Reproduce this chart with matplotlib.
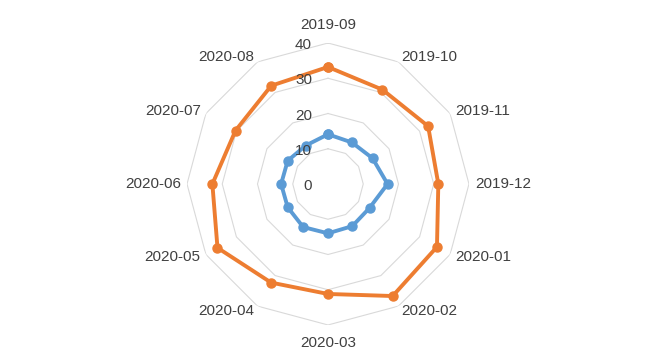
import numpy as np
import matplotlib
matplotlib.use("Agg")
import matplotlib.pyplot as plt

categories = ["2019-09", "2019-10", "2019-11", "2019-12", "2020-01", "2020-02",
              "2020-03", "2020-04", "2020-05", "2020-06", "2020-07", "2020-08"]
series_blue = [14.1, 13.6, 14.6, 16.9, 13.6, 13.8, 14.0, 14.1, 13.2, 13.3, 13.2, 12.6]
series_orange = [33.2, 30.9, 32.8, 31.3, 35.7, 36.7, 31.2, 32.3, 36.2, 32.8, 30.3, 32.2]
r_ticks = [0, 10, 20, 30, 40]

plt.rcParams['font.family'] = ['Liberation Sans', 'DejaVu Sans']

fig = plt.figure(figsize=(6.55, 3.57), dpi=100)
ax = fig.add_axes([0.2855, 0.0896, 0.4305, 0.790], projection='polar')
ax.set_theta_offset(np.pi / 2)
ax.set_theta_direction(-1)
ax.set_ylim(0, 40)
ax.grid(False)
ax.spines['polar'].set_visible(False)
ax.set_xticks([])
ax.set_yticks([])

n = len(categories)
angles = np.arange(n) * 2 * np.pi / n
closed = np.concatenate([angles, angles[:1]])

for v in r_ticks[1:]:
    ax.plot(closed, [v] * (n + 1), color='#D9D9D9', lw=0.8, zorder=1)

for vals, col in [(series_blue, '#5B9BD5'), (series_orange, '#ED7D31')]:
    ax.plot(closed, list(vals) + [vals[0]], color=col, lw=2.8, marker='o',
            markersize=6.5, zorder=3)

for a, lab in zip(angles, categories):
    s = np.sin(a)
    if abs(s) < 1e-6:
        ax.text(a, 45.0, lab, ha='center', va='center', fontsize=11, color='#404040')
    else:
        ha = 'left' if s > 0 else 'right'
        ax.text(a, 41.7, lab, ha=ha, va='center', fontsize=11, color='#404040')

for v in r_ticks:
    ax.annotate(str(v), xy=(0, v), xytext=(-11.5, -1.5), textcoords='offset points',
                ha='right', va='center', fontsize=11, color='#404040')

fig.savefig('out.png', dpi=100)
